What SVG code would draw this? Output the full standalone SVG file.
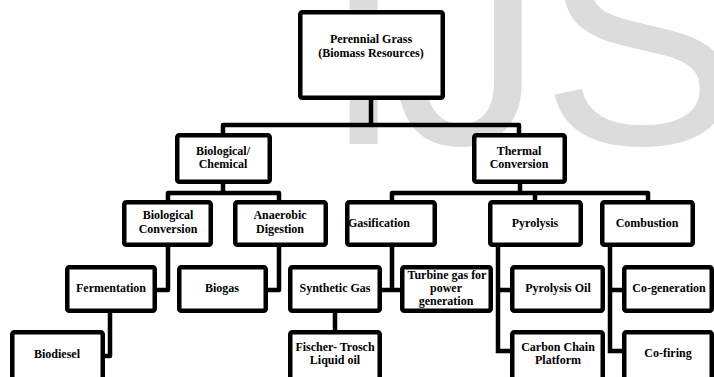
<svg xmlns="http://www.w3.org/2000/svg" width="714" height="377" viewBox="0 0 714 377">
<style>
.box{fill:#fff;stroke:#000;stroke-width:4.5}
.t{font-family:"Liberation Serif","Times New Roman",serif;font-weight:bold;font-size:12px;fill:#000;text-anchor:middle}
.c{fill:none;stroke:#000;stroke-width:4.5;stroke-linejoin:round;stroke-linecap:square}
.wm{font-family:"Liberation Sans",Arial,sans-serif;font-size:300px;fill:#dcdcdc}
</style>
<rect width="714" height="377" fill="#fff"/>
<g id="watermark">
<text class="wm" y="144"><tspan x="322">I</tspan><tspan x="394">J</tspan><tspan x="541">S</tspan></text>
</g>
<g id="connectors">
<path class="c" d="M371,100 V125 M223,133 V125 H519 V133"/>
<path class="c" d="M223,184 V193 M168,200 V193 H279 V200"/>
<path class="c" d="M520,184 V193 M392,200 V193 H648 V200 M535,193 V200"/>
<path class="c" d="M168,247 V290 H157"/>
<path class="c" d="M279,247 V290 H268"/>
<path class="c" d="M392,247 V290 M382,290 H400"/>
<path class="c" d="M498,247 V351 M498,290 H510 M498,351 H510"/>
<path class="c" d="M610,247 V351 M610,290 H622 M610,351 H622"/>
<path class="c" d="M110,313 V356 H105"/>
<path class="c" d="M335,313 V330"/>
</g>
<g id="root"><rect class="box" x="300.25" y="12.25" width="142.5" height="85.5" rx="2"/><text class="t" x="371" y="43">Perennial Grass</text><text class="t" x="371" y="57">(Biomass Resources)</text></g>
<g id="biochem"><rect class="box" x="177.25" y="135.25" width="92.5" height="46.5" rx="2"/><text class="t" x="223" y="155">Biological/</text><text class="t" x="223" y="168">Chemical</text></g>
<g id="thermal"><rect class="box" x="474.25" y="135.25" width="90.5" height="46.5" rx="2"/><text class="t" x="519" y="155">Thermal</text><text class="t" x="519" y="168">Conversion</text></g>
<g id="bioconv"><rect class="box" x="124.25" y="202.25" width="86.5" height="42.5" rx="2"/><text class="t" x="168" y="219">Biological</text><text class="t" x="168" y="233">Conversion</text></g>
<g id="anaerobic"><rect class="box" x="235.25" y="202.25" width="90.5" height="42.5" rx="2"/><text class="t" x="280" y="219">Anaerobic</text><text class="t" x="280" y="233">Digestion</text></g>
<g id="gasification"><rect class="box" x="347.25" y="202.25" width="87.5" height="42.5" rx="2"/><text class="t" x="348" y="227" style="text-anchor:start">Gasification</text></g>
<g id="pyrolysis"><rect class="box" x="490.25" y="202.25" width="90.5" height="42.5" rx="2"/><text class="t" x="535" y="227">Pyrolysis</text></g>
<g id="combustion"><rect class="box" x="602.25" y="202.25" width="90.5" height="42.5" rx="2"/><text class="t" x="647" y="227">Combustion</text></g>
<g id="fermentation"><rect class="box" x="67.25" y="267.25" width="87.5" height="43.5" rx="2"/><text class="t" x="111" y="292">Fermentation</text></g>
<g id="biogas"><rect class="box" x="179.25" y="267.25" width="86.5" height="43.5" rx="2"/><text class="t" x="222" y="292">Biogas</text></g>
<g id="syngas"><rect class="box" x="290.25" y="267.25" width="89.5" height="43.5" rx="2"/><text class="t" x="335" y="292">Synthetic Gas</text></g>
<g id="turbine"><rect class="box" x="402.25" y="267.25" width="88.5" height="43.5" rx="2"/><text class="t" x="447" y="279">Turbine gas for</text><text class="t" x="446" y="292">power</text><text class="t" x="446" y="305">generation</text></g>
<g id="pyrolysisoil"><rect class="box" x="512.25" y="267.25" width="90.5" height="43.5" rx="2"/><text class="t" x="558" y="292">Pyrolysis Oil</text></g>
<g id="cogeneration"><rect class="box" x="624.25" y="267.25" width="87.5" height="43.5" rx="2"/><text class="t" x="669" y="292">Co-generation</text></g>
<g id="biodiesel"><rect class="box" x="12.25" y="332.25" width="90.5" height="60" rx="2"/><text class="t" x="57" y="358">Biodiesel</text></g>
<g id="fischer"><rect class="box" x="290.25" y="332.25" width="89.5" height="60" rx="2"/><text class="t" x="335" y="351">Fischer- Trosch</text><text class="t" x="335" y="364">Liquid oil</text></g>
<g id="carbonchain"><rect class="box" x="512.25" y="332.25" width="90.5" height="60" rx="2"/><text class="t" x="558" y="351">Carbon Chain</text><text class="t" x="558" y="364">Platform</text></g>
<g id="cofiring"><rect class="box" x="624.25" y="332.25" width="87.5" height="60" rx="2"/><text class="t" x="668" y="357">Co-firing</text></g>
</svg>
